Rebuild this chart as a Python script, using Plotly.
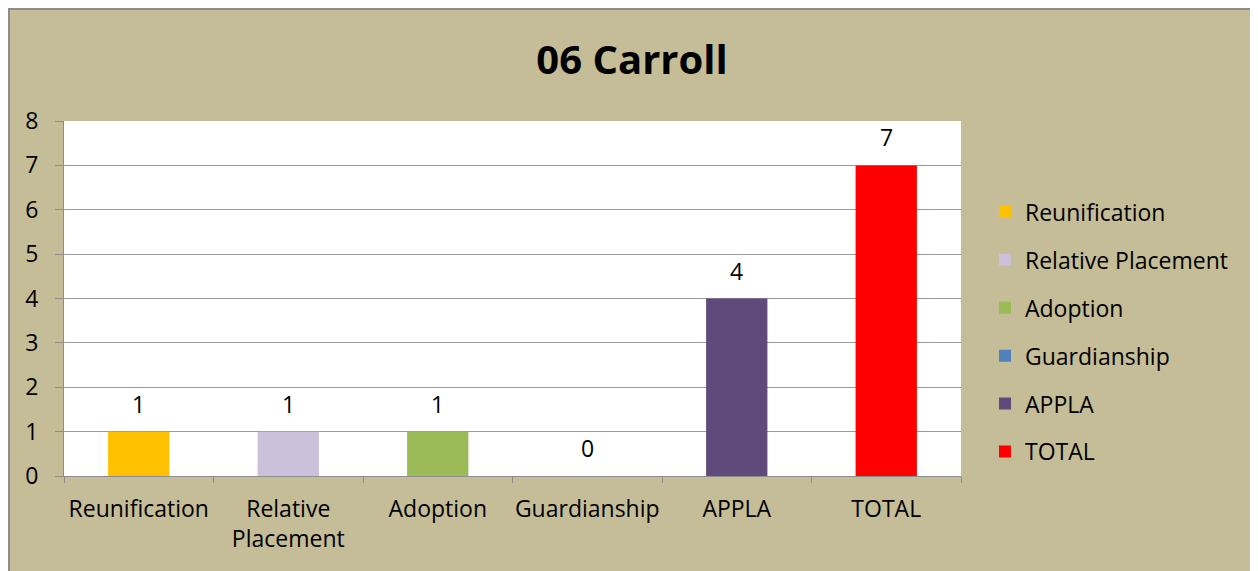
import plotly.graph_objects as go

categories = ["Reunification", "Relative Placement", "Adoption", "Guardianship", "APPLA", "TOTAL"]
tick_labels = ["Reunification", "Relative<br>Placement", "Adoption", "Guardianship", "APPLA", "TOTAL"]
values = [1, 1, 1, 0, 4, 7]
colors = ["#FFC000", "#CCC1DA", "#9BBB59", "#4F81BD", "#604A7B", "#FF0000"]

FONT = "Open Sans"
W, H = 1248, 563
L, R, T, B = 56, 295, 113, 95
PW, PH = W - L - R, H - T - B

fig = go.Figure()
for i, (cat, val, col) in enumerate(zip(categories, values, colors)):
    fig.add_trace(go.Bar(
        x=[tick_labels[i]], y=[val], name=cat,
        marker=dict(color=col, line=dict(width=0)),
        width=0.41,
        legendgroup=cat,
    ))
    fig.add_annotation(x=tick_labels[i], y=val, text=str(val), showarrow=False,
                       xref="x", yref="y", yanchor="middle", yshift=28,
                       font=dict(size=23, color="#000000", family=FONT))

fig.update_layout(
    width=W, height=H,
    barmode="overlay",
    paper_bgcolor="#C4BD97",
    plot_bgcolor="#FFFFFF",
    margin=dict(l=L, r=R, t=T, b=B, autoexpand=False),
    title=dict(text="<b>06 Carroll</b>", x=(632 - 8) / W, xanchor="center",
               y=1 - 52 / H, yanchor="middle",
               font=dict(size=40, color="#000000", family=FONT)),
    font=dict(family=FONT, color="#000000", size=23),
    legend=dict(x=(977 - L) / PW, xanchor="left", y=(H - B - 324) / PH, yanchor="middle",
                font=dict(size=23, family=FONT, color="#000000"),
                tracegroupgap=15, bgcolor="rgba(0,0,0,0)"),
    showlegend=True,
)
fig.update_xaxes(
    type="category", categoryorder="array", categoryarray=tick_labels,
    showline=True, linecolor="#8C8C8C", linewidth=1,
    ticks="outside", tickson="boundaries", ticklen=6, tickcolor="#8C8C8C",
    tickfont=dict(size=23, family=FONT, color="#000000"),
    tickangle=0, automargin=False, ticklabelstandoff=12,
    showgrid=False,
)
fig.update_yaxes(
    range=[0, 8], dtick=1,
    showline=True, linecolor="#8C8C8C", linewidth=1,
    ticks="outside", ticklen=8, tickcolor="#8C8C8C",
    gridcolor="#9A9A9A", gridwidth=1,
    tickfont=dict(size=23, family=FONT, color="#000000"),
    automargin=False, ticklabelstandoff=12,
    zeroline=False,
)
fig.add_shape(type="rect", xref="paper", yref="paper",
              x0=(-L + 1) / PW, x1=(W - L - 1) / PW,
              y0=-(B + 40) / PH, y1=1 + (T - 1) / PH,
              line=dict(color="#8C8C8C", width=2), fillcolor="rgba(0,0,0,0)", layer="below")

fig.write_html("out.html")
